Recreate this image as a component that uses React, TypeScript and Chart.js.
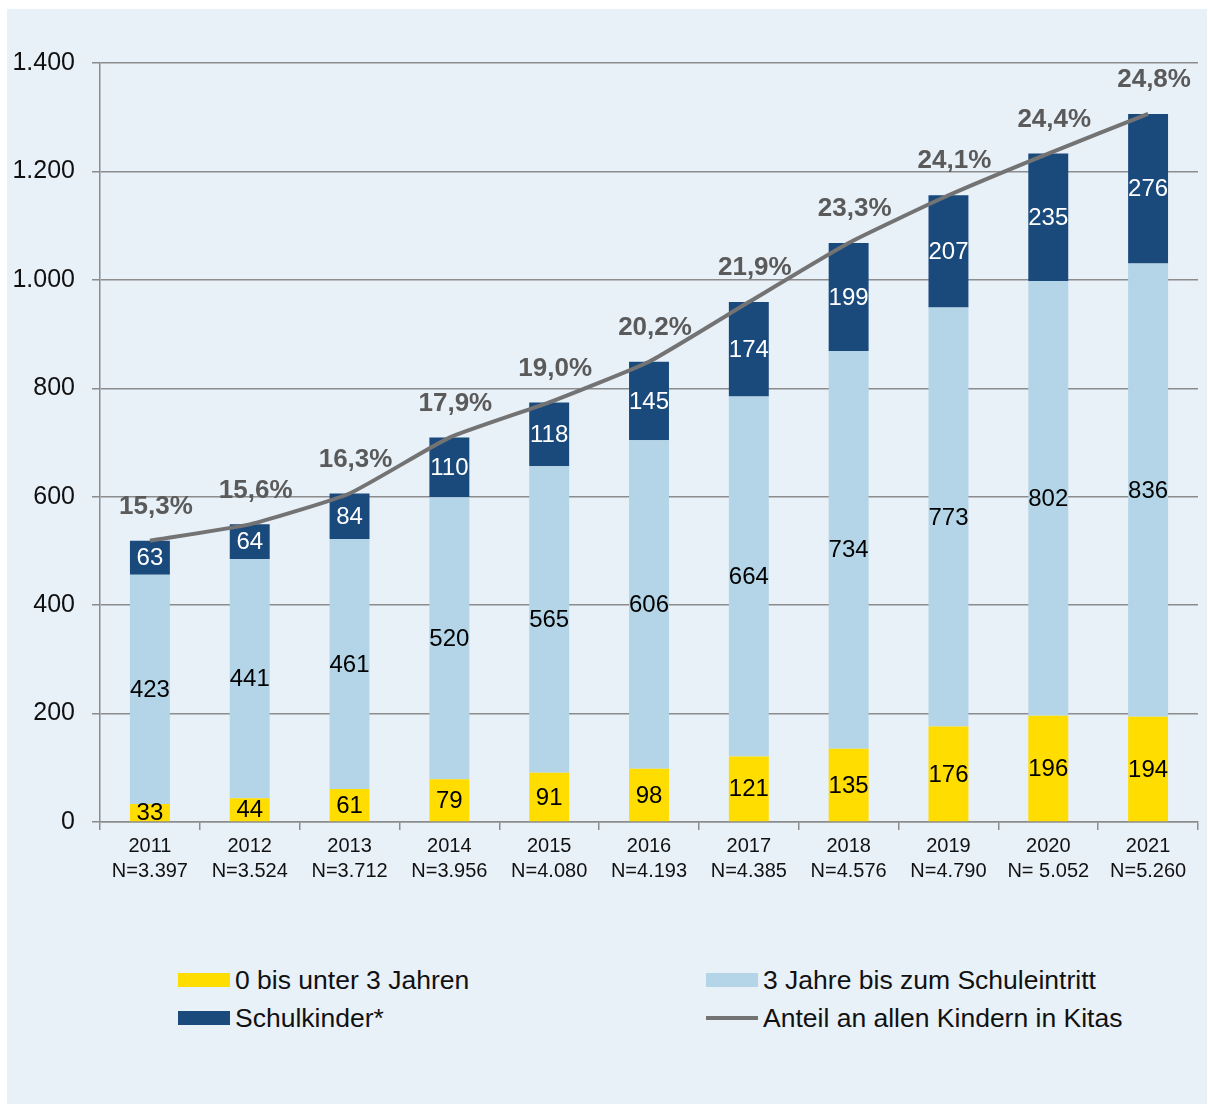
import React, { useEffect, useRef } from "react";
import { Chart, registerables } from "chart.js";

Chart.register(...registerables);

const years = ["2011", "2012", "2013", "2014", "2015", "2016", "2017", "2018", "2019", "2020", "2021"];
const nLabels = ["N=3.397", "N=3.524", "N=3.712", "N=3.956", "N=4.080", "N=4.193", "N=4.385", "N=4.576", "N=4.790", "N= 5.052", "N=5.260"];
const under3 = [33, 44, 61, 79, 91, 98, 121, 135, 176, 196, 194];
const threeToSchool = [423, 441, 461, 520, 565, 606, 664, 734, 773, 802, 836];
const schoolKids = [63, 64, 84, 110, 118, 145, 174, 199, 207, 235, 276];
const totals = [519, 549, 606, 709, 774, 849, 959, 1068, 1156, 1233, 1306];
const shares = ["15,3%", "15,6%", "16,3%", "17,9%", "19,0%", "20,2%", "21,9%", "23,3%", "24,1%", "24,4%", "24,8%"];

const seriesNames = ["0 bis unter 3 Jahren", "3 Jahre bis zum Schuleintritt", "Schulkinder*", "Anteil an allen Kindern in Kitas"];

const YELLOW = "#FFDD00";
const LIGHT = "#B4D5E7";
const DARK = "#1A4A7C";
const LINE = "#737373";
const BG = "#E8F0F8";
const GRID = "#8C8C8C";
const FONT = "'Liberation Sans', Arial, sans-serif";

const fmt = (v: number) => String(v).replace(/\B(?=(\d{3})+(?!\d))/g, ".");

const labelPlugin = {
  id: "valueLabels",
  afterDatasetsDraw(chart: any) {
    const ctx = chart.ctx;
    ctx.save();
    chart.data.datasets.forEach((ds: any, di: number) => {
      const meta = chart.getDatasetMeta(di);
      if (ds.type === "line") {
        ctx.font = `bold 26px ${FONT}`;
        ctx.fillStyle = "#5A5A5A";
        ctx.textAlign = "center";
        ctx.textBaseline = "middle";
        meta.data.forEach((pt: any, i: number) => {
          ctx.fillText(shares[i], pt.x + 6, pt.y - 34);
        });
      } else {
        ctx.font = `24px ${FONT}`;
        ctx.fillStyle = ds.labelColor;
        ctx.textAlign = "center";
        ctx.textBaseline = "middle";
        meta.data.forEach((el: any, i: number) => {
          const cy = (el.y + el.base) / 2;
          ctx.fillText(String(ds.data[i]), el.x, cy + 1);
        });
      }
    });
    ctx.restore();
  },
};

export default function App() {
  const ref = useRef<HTMLCanvasElement>(null);
  useEffect(() => {
    if (!ref.current) return;
    const chart = new Chart(ref.current, {
      type: "bar",
      data: {
        labels: years.map((y, i) => [y, nLabels[i]]),
        datasets: [
          {
            type: "line",
            label: seriesNames[3],
            data: totals,
            borderColor: LINE,
            borderWidth: 4,
            pointRadius: 0,
            tension: 0.15,
            stack: "total",
            order: 0,
          } as any,
          { label: seriesNames[0], data: under3, backgroundColor: YELLOW, stack: "a", order: 1, labelColor: "#000" } as any,
          { label: seriesNames[1], data: threeToSchool, backgroundColor: LIGHT, stack: "a", order: 1, labelColor: "#000" } as any,
          { label: seriesNames[2], data: schoolKids, backgroundColor: DARK, stack: "a", order: 1, labelColor: "#FFF" } as any,
        ],
      },
      options: {
        animation: false,
        responsive: false,
        layout: { padding: { top: 54, right: 9, left: 0, bottom: 0 } },
        datasets: { bar: { barPercentage: 0.8, categoryPercentage: 0.5 } } as any,
        plugins: { legend: { display: false }, tooltip: { enabled: false } },
        scales: {
          x: {
            stacked: true,
            grid: { display: true, drawOnChartArea: false, color: GRID, lineWidth: 1.5, tickLength: 8, offset: true },
            border: { color: GRID, width: 1.5 },
            ticks: { color: "#111", font: { family: FONT, size: 20, lineHeight: 1.25 }, padding: 4, maxRotation: 0 },
            afterFit: (s: any) => { s.height = 87; },
          },
          y: {
            stacked: true,
            min: 0,
            max: 1400,
            grid: { color: GRID, lineWidth: 1.5, tickLength: 8 },
            border: { color: GRID, width: 1.5 },
            ticks: { stepSize: 200, color: "#111", font: { family: FONT, size: 25 }, padding: 17, callback: (v: any) => fmt(Number(v)) },
            afterFit: (s: any) => { s.width = 93; },
          },
        },
      },
      plugins: [labelPlugin],
    });
    return () => chart.destroy();
  }, []);

  const legendItem = (left: number, top: number, color: string, text: string, isLine = false) => (
    <div style={{ position: "absolute", left, top, height: 30, display: "flex", alignItems: "center" }}>
      <div style={{ width: 52, height: isLine ? 4 : 14, background: color, marginRight: 5 }} />
      <span style={{ fontFamily: FONT, fontSize: 26.5, color: "#111", whiteSpace: "nowrap" }}>{text}</span>
    </div>
  );

  return (
    <div style={{ position: "fixed", left: 7, top: 9, width: 1200, height: 1095, background: BG }}>
      <canvas ref={ref} width={1200} height={900} style={{ position: "absolute", left: 0, top: 0 }} />
      {legendItem(171, 956, YELLOW, seriesNames[0])}
      {legendItem(699, 956, LIGHT, seriesNames[1])}
      {legendItem(171, 994, DARK, seriesNames[2])}
      {legendItem(699, 994, LINE, seriesNames[3], true)}
    </div>
  );
}
